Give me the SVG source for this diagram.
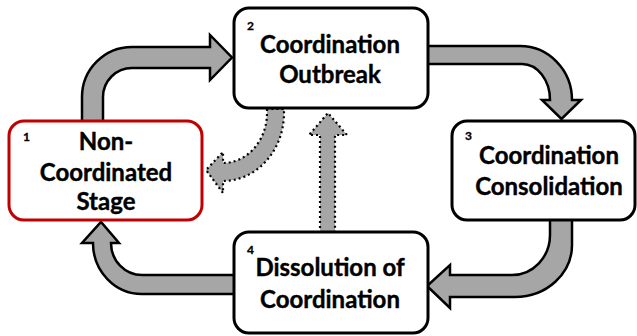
<svg xmlns="http://www.w3.org/2000/svg" width="637" height="336" viewBox="0 0 637 336">
  <style>
    .box { fill: #ffffff; stroke: #000000; stroke-width: 3; }
    .box.start { stroke: #c00000; }
    .flow { fill: #a6a6a6; stroke: #000000; stroke-width: 2.5; stroke-linejoin: miter; }
    .back { fill: #a6a6a6; stroke: #000000; stroke-width: 2.2; stroke-dasharray: 2 3; }
    .label { font-family: Lato, "Liberation Sans", sans-serif; font-weight: bold; font-size: 24px; fill: #000000; stroke: #000000; stroke-width: 0.4; text-anchor: middle; }
    .num { font-family: Lato, "Liberation Sans", sans-serif; font-weight: bold; font-size: 12px; fill: #000000; stroke: #000000; stroke-width: 0.3; }
  </style>

  <!-- connectors: solid cycle arrows and dotted return arrows -->
  <g id="connectors">
    <path id="arrow-1-2" class="flow" d="M82,122 L82,97 A50,50 0 0 1 132,47 L210,47 L210,35 L232,57.5 L210,80 L210,68 L132,68 A29,29 0 0 0 103,97 L103,122 Z"/>
    <path id="arrow-2-3" class="flow" d="M427,46 L520,46 A52,54 0 0 1 572,100 L581,100 L561.5,119 L542,100 L550,100 A28,36 0 0 0 522,64 L427,64 Z"/>
    <path id="arrow-3-4" class="flow" d="M550,219 L550,235 A38,40 0 0 1 512,275 L450,275 L450,265 L427,286 L450,308 L450,297 L515,297 A57,52 0 0 0 572,245 L572,219 Z"/>
    <path id="arrow-4-1" class="flow" d="M235,275 L142,275 A31,32 0 0 1 111,243 L119,243 L101,222 L82,243 L93,243 A49,51 0 0 0 142,294 L235,294 Z"/>
    <path id="arrow-2-1" class="back" d="M267,109 L267,113 A44,50 0 0 1 223,163 L223,152 L206,170 L223,193 L223,181 A61,68 0 0 0 284,113 L284,109 Z"/>
    <path id="arrow-4-2" class="back" d="M320,233 L320,135 L309,135 L328,113 L347,135 L335,135 L335,233 Z"/>
  </g>

  <g id="node-1">
    <rect class="box start" x="9" y="121" width="193" height="99" rx="15"/>
    <text class="num" x="23" y="141">1</text>
    <text class="label" x="106" y="150">Non-</text>
    <text class="label" x="106" y="181">Coordinated</text>
    <text class="label" x="106" y="210">Stage</text>
  </g>

  <g id="node-2">
    <rect class="box" x="234" y="8" width="194" height="100" rx="15"/>
    <text class="num" x="247" y="30">2</text>
    <text class="label" x="330" y="53">Coordination</text>
    <text class="label" x="330" y="83">Outbreak</text>
  </g>

  <g id="node-3">
    <rect class="box" x="452" y="121" width="183" height="99" rx="15"/>
    <text class="num" x="465" y="140">3</text>
    <text class="label" x="549" y="164">Coordination</text>
    <text class="label" x="549" y="195">Consolidation</text>
  </g>

  <g id="node-4">
    <rect class="box" x="234" y="232" width="194" height="101" rx="15"/>
    <text class="num" x="247" y="254">4</text>
    <text class="label" x="330" y="276">Dissolution of</text>
    <text class="label" x="330" y="308">Coordination</text>
  </g>
</svg>
